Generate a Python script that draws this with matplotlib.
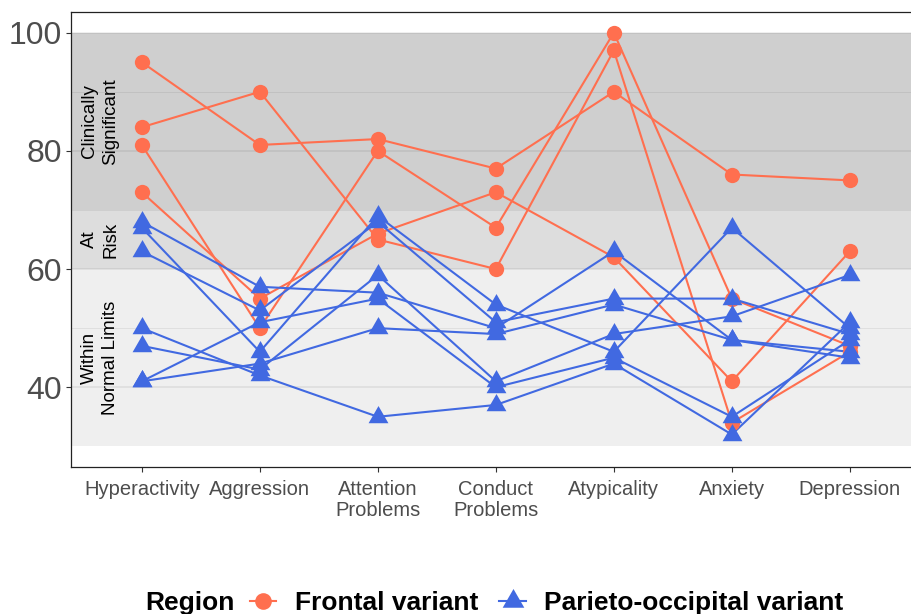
import matplotlib
matplotlib.use("Agg")
import matplotlib.pyplot as plt
from matplotlib.path import Path
from matplotlib.lines import Line2D

plt.rcParams["font.family"] = ["Liberation Sans", "DejaVu Sans"]

# BASC-style scales shown along the x axis
categories = ["Hyperactivity", "Aggression", "Attention\nProblems", "Conduct\nProblems",
              "Atypicality", "Anxiety", "Depression"]

# T-scores per patient, one list per patient, in category order
frontal_scores = [
    [95, 81, 82, 77, 90, 76, 75],
    [84, 90, 65, 60, 97, 34, 46],
    [81, 50, 80, 67, 100, 55, 47],
    [73, 55, 66, 73, 62, 41, 63],
]
parietal_scores = [
    [68, 57, 56, 50, 63, 48, 45],
    [67, 46, 69, 54, 46, 67, 50],
    [63, 53, 68, 51, 55, 55, 49],
    [41, 51, 55, 40, 45, 35, 48],
    [41, 44, 50, 49, 54, 48, 46],
    [47, 43, 59, 41, 49, 52, 59],
    [50, 42, 35, 37, 44, 32, 51],
]

group_names = ["Frontal variant", "Parieto-occipital variant"]
group_colors = ["#FF6F4F", "#4169E1"]

# Clinical ranges: (lower, upper, label)
band_lower = [30, 60, 70]
band_upper = [60, 70, 100]
band_labels = ["Within\nNormal Limits", "At\nRisk", "Clinically\nSignificant"]
band_alpha = [0.063, 0.135, 0.19]

y_major = [40, 60, 80, 100]
y_minor = [50, 70, 90]

# equilateral triangle centred on its centroid
tri = Path([(0, 1), (-0.866, -0.5), (0.866, -0.5), (0, 1)],
           [Path.MOVETO, Path.LINETO, Path.LINETO, Path.CLOSEPOLY])

W, H = 912, 614
fig = plt.figure(figsize=(W / 100, H / 100), dpi=100)
ax = fig.add_axes([71 / W, 1 - 467 / H, 849.6 / W, 455 / H])
ax.set_xlim(0.4, 7.6)
ax.set_ylim(26.5, 103.5)

# grid drawn under the translucent bands
for v in y_major:
    ax.axhline(v, color="#EBEBEB", lw=1.1, zorder=0.5)
for v in y_minor:
    ax.axhline(v, color="#EBEBEB", lw=0.6, zorder=0.5)

for lo, hi, a in zip(band_lower, band_upper, band_alpha):
    ax.axhspan(lo, hi, color="black", alpha=a, lw=0, zorder=1)

for lo, hi, lab in zip(band_lower, band_upper, band_labels):
    ax.text(0.645, (lo + hi) / 2, lab, rotation=90, ha="center", va="center",
            multialignment="center", fontsize=13.5, color="black", linespacing=1.35,
            zorder=5)

xs = list(range(1, len(categories) + 1))

for scores in frontal_scores:
    ax.plot(xs, scores, color=group_colors[0], lw=1.5, zorder=2)
for scores in parietal_scores:
    ax.plot(xs, scores, color=group_colors[1], lw=1.5, zorder=2)
for scores in frontal_scores:
    ax.plot(xs, scores, ls="none", marker="o", ms=11, mew=0,
            color=group_colors[0], zorder=3)
for scores in parietal_scores:
    ax.plot(xs, scores, ls="none", marker=tri, ms=16.5, mew=0,
            color=group_colors[1], zorder=3)

ax.set_xticks(xs)
ax.set_xticklabels(categories)
ax.set_yticks(y_major)
ax.set_yticklabels([str(v) for v in y_major])
ax.tick_params(axis="y", labelsize=23, labelcolor="#4D4D4D", length=3.5,
               width=0.8, color="#333333", pad=3)
ax.tick_params(axis="x", labelsize=14.5, labelcolor="#4D4D4D", length=3.5,
               width=0.8, color="#333333", pad=6)
for lab in ax.get_xticklabels():
    lab.set_linespacing(1.1)

for side in ["left", "bottom", "top", "right"]:
    ax.spines[side].set_color("#222222")
    ax.spines[side].set_linewidth(0.9)

# legend along the bottom
ly = 1 - 603 / H
fig.text(145 / W, ly, "Region", fontsize=19, fontweight="bold", ha="left", va="center")
handles = [
    Line2D([], [], color=group_colors[0], lw=1.5, marker="o", ms=12, mew=0),
    Line2D([], [], color=group_colors[1], lw=1.5, marker=tri, ms=18, mew=0),
]
fig.legend(handles, group_names, loc="center left", bbox_to_anchor=(250 / W, ly),
           ncol=2, frameon=False, prop={"size": 19, "weight": "bold"},
           handlelength=1.0, handletextpad=0.7, columnspacing=0.8,
           borderpad=0, borderaxespad=0)

fig.savefig("out.png", dpi=100)
